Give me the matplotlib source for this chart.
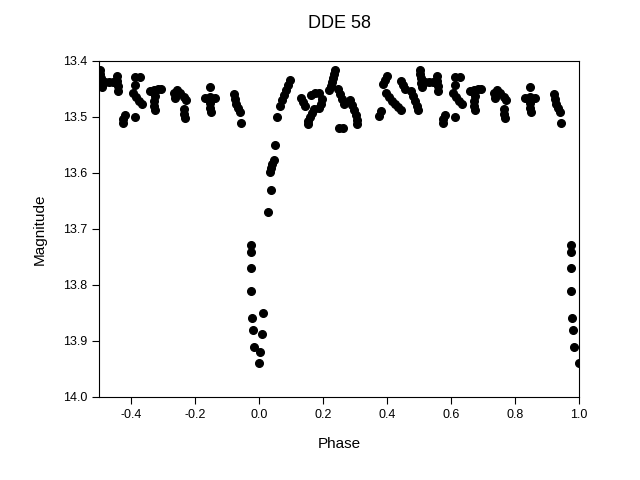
import numpy as np
import matplotlib.pyplot as plt

plt.rcParams['font.family'] = ['Liberation Sans', 'DejaVu Sans']

# ---- Curva de luz DDE 58: fase (0..1) e magnitude ----
# eclipse (ingresso e egresso)
fase_ecl = [0.973, 0.973, 0.973, 0.973, 0.977, 0.980, 0.984, 0.9995,
            0.003, 0.008, 0.011, 0.029, 0.0375, 0.034, 0.038, 0.041, 0.047, 0.050]
mag_ecl = [13.729, 13.741, 13.769, 13.810, 13.859, 13.880, 13.911, 13.939,
           13.920, 13.888, 13.850, 13.669, 13.631, 13.599, 13.591, 13.584, 13.577, 13.550]

# fora do eclipse
fase_fora = [
    0.055, 0.066, 0.072, 0.078, 0.084, 0.091, 0.097,
    0.131, 0.1375, 0.144, 0.1625, 0.175, 0.1875, 0.197, 0.194, 0.1875,
    0.172, 0.166, 0.159, 0.153, 0.153,
    0.2375, 0.234, 0.231, 0.228, 0.225, 0.219,
    0.247, 0.253, 0.259, 0.266,
    0.284, 0.291, 0.297, 0.303, 0.306, 0.306,
    0.250, 0.2625,
    0.3875, 0.394, 0.400,
    0.397, 0.406, 0.416, 0.425, 0.434, 0.444,
    0.375, 0.381,
    0.444, 0.450, 0.456,
    0.475, 0.481, 0.4875, 0.494, 0.497,
    0.503, 0.503, 0.506, 0.506, 0.509,
    0.519, 0.531, 0.544,
    0.556, 0.556, 0.559, 0.559,
    0.6125, 0.628, 0.6125,
    0.606, 0.616, 0.625, 0.634,
    0.659, 0.672, 0.684, 0.694,
    0.675, 0.672, 0.672, 0.675,
    0.581, 0.575, 0.575, 0.6125,
    0.734, 0.744, 0.753, 0.766, 0.772, 0.738,
    0.766, 0.766, 0.769,
    0.847, 0.831, 0.847, 0.8625, 0.847, 0.847, 0.850,
    0.922, 0.925, 0.928, 0.934, 0.941, 0.944,
]
mag_fora = [
    13.500, 13.480, 13.470, 13.461, 13.452, 13.443, 13.434,
    13.466, 13.473, 13.480, 13.461, 13.457, 13.457, 13.468, 13.477, 13.484,
    13.486, 13.493, 13.500, 13.507, 13.513,
    13.416, 13.423, 13.430, 13.438, 13.445, 13.452,
    13.450, 13.459, 13.468, 13.477,
    13.470, 13.479, 13.488, 13.497, 13.505, 13.513,
    13.520, 13.520,
    13.441, 13.434, 13.427,
    13.457, 13.464, 13.471, 13.477, 13.482, 13.488,
    13.498, 13.489,
    13.436, 13.443, 13.450,
    13.454, 13.463, 13.471, 13.480, 13.488,
    13.416, 13.423, 13.430, 13.439, 13.446,
    13.4375, 13.4375, 13.4375,
    13.427, 13.436, 13.445, 13.454,
    13.429, 13.429, 13.443,
    13.457, 13.464, 13.471, 13.477,
    13.454, 13.452, 13.450, 13.450,
    13.463, 13.471, 13.480, 13.488,
    13.497, 13.504, 13.511, 13.500,
    13.457, 13.452, 13.457, 13.464, 13.470, 13.466,
    13.486, 13.495, 13.502,
    13.446, 13.466, 13.464, 13.466, 13.475, 13.484, 13.491,
    13.459, 13.468, 13.477, 13.484, 13.491, 13.511,
]

fase = np.array(fase_ecl + fase_fora)
mag = np.array(mag_ecl + mag_fora)

# fases >= 0.5 repetidas em fase-1 (grafico de -0.5 a 1.0)
rep = fase >= 0.5
x = np.concatenate([fase, fase[rep] - 1])
y = np.concatenate([mag, mag[rep]])

fig = plt.figure(figsize=(6.4, 4.8), dpi=100)
ax = fig.add_axes([0.155, 0.173, 0.75, 0.7])
ax.plot(x, y, "o", color="black", ms=5.5, mec="black")

ax.set_xlim(-0.5, 1.0)
ax.set_ylim(14.0, 13.4)
ax.set_xticks(np.arange(-0.4, 1.01, 0.2))
ax.set_xticklabels(["-0.4", "-0.2", "0.0", "0.2", "0.4", "0.6", "0.8", "1.0"])
ax.set_yticks(np.arange(13.4, 14.01, 0.1))
ax.set_yticklabels(["13.4", "13.5", "13.6", "13.7", "13.8", "13.9", "14.0"])
ax.tick_params(direction="out", length=5, labelsize=9, top=False, right=False)
ax.set_xlabel("Phase", fontsize=11, labelpad=12)
ax.set_ylabel("Magnitude", fontsize=11, labelpad=12)
fig.text(0.53, 0.952, "DDE 58", ha="center", va="center", fontsize=13)

plt.savefig("out.png", dpi=100, facecolor="white")
